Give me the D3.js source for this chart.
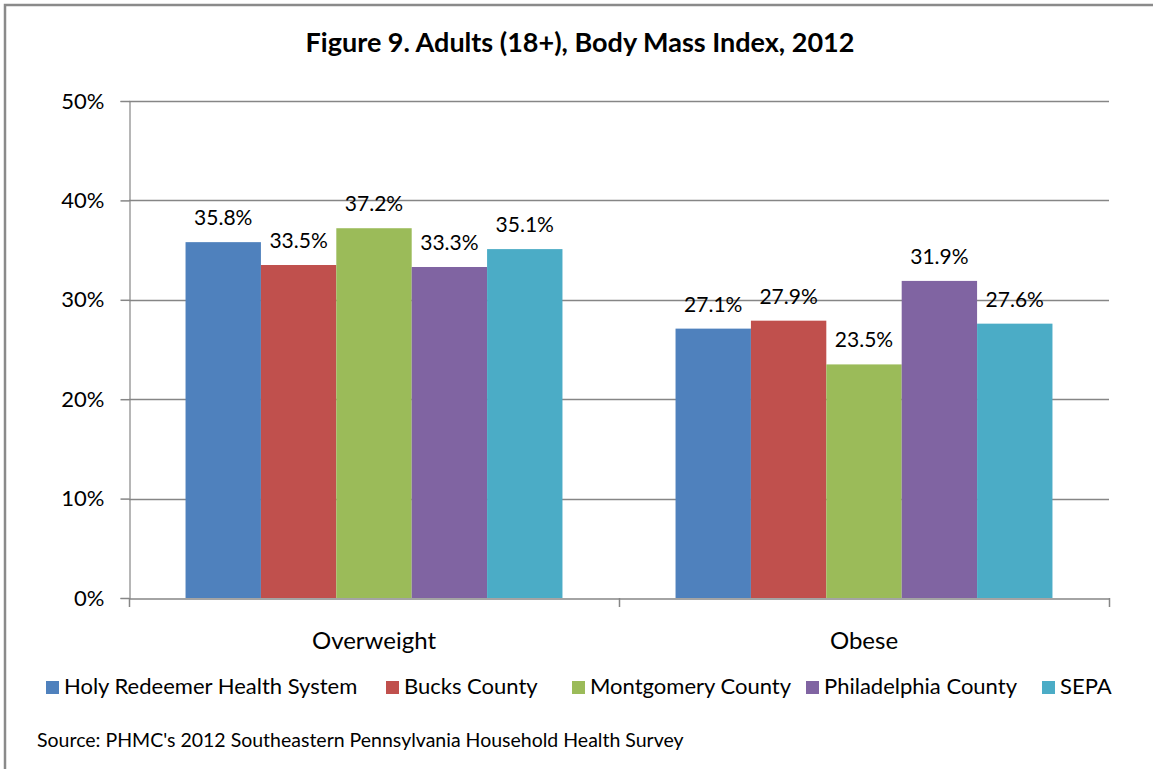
<!DOCTYPE html>
<html>
<head>
<meta charset="utf-8">
<script src="https://cdn.jsdelivr.net/npm/d3@7"></script>
<style>
  body { margin: 0; background: #fff; }
  svg { display: block; font-family: Lato, "Open Sans", sans-serif; }
</style>
</head>
<body>
<div id="chart"></div>
<script>
// Body mass index chart
const categories = ["Overweight", "Obese"];
const seriesNames = ["Holy Redeemer Health System", "Bucks County", "Montgomery County", "Philadelphia County", "SEPA"];
const overweight = [35.8, 33.5, 37.2, 33.3, 35.1];
const obese = [27.1, 27.9, 23.5, 31.9, 27.6];
const yTicks = [0, 10, 20, 30, 40, 50];
const colors = ["#4F81BD", "#C0504D", "#9BBB59", "#8064A2", "#4BACC6"];

const W = 1153, H = 769;
const plot = { left: 129, right: 1109, top: 101, bottom: 598 };

const svg = d3.select("#chart")
  .append("svg")
  .attr("width", W)
  .attr("height", H);

// outer frame (runs off the right/bottom edge like the original)
svg.append("rect")
  .attr("x", 5).attr("y", 5)
  .attr("width", 1170).attr("height", 800)
  .attr("fill", "none")
  .attr("stroke", "#8a8a8a")
  .attr("stroke-width", 2.5);

svg.append("text")
  .attr("x", 580)
  .attr("y", 52)
  .attr("text-anchor", "middle")
  .attr("font-weight", "bold")
  .attr("font-size", 27)
  .text("Figure 9. Adults (18+), Body Mass Index, 2012");

const x0 = d3.scaleBand()
  .domain(categories)
  .range([plot.left, plot.right]);

// 150% gap width -> inner group takes 5 of 6.5 bar widths
const groupPad = (1.5 / 6.5) / 2;
const x1 = d3.scaleBand()
  .domain(seriesNames)
  .range([x0.bandwidth() * groupPad, x0.bandwidth() * (1 - groupPad)]);

const y = d3.scaleLinear()
  .domain([0, 50])
  .range([plot.bottom, plot.top]);

// gridlines
svg.append("g")
  .selectAll("line")
  .data(yTicks.filter(d => d > 0))
  .enter()
  .append("line")
  .attr("x1", plot.left)
  .attr("x2", plot.right)
  .attr("y1", d => Math.round(y(d)) + 0.5)
  .attr("y2", d => Math.round(y(d)) + 0.5)
  .attr("stroke", "#868686")
  .attr("stroke-width", 1.5);

// y axis
const yAxis = svg.append("g")
  .attr("transform", `translate(${plot.left + 0.5},0)`)
  .call(d3.axisLeft(y).tickValues(yTicks).tickFormat(d => d + "%").tickSize(9).tickPadding(16));
yAxis.select(".domain").attr("stroke", "#868686").attr("stroke-width", 1.2);
yAxis.selectAll(".tick line").attr("stroke", "#868686").attr("stroke-width", 1.5);
yAxis.selectAll("text")
  .attr("font-size", 22)
  .attr("fill", "#000")
  .attr("font-family", "Lato, sans-serif");

const table = categories.map((c, i) => ({
  cat: c,
  vals: seriesNames.map((s, j) => ({ s, v: (i === 0 ? overweight : obese)[j], color: colors[j] }))
}));

const groups = svg.append("g")
  .selectAll("g")
  .data(table)
  .enter()
  .append("g")
  .attr("transform", d => `translate(${x0(d.cat)},0)`);

groups.selectAll("rect")
  .data(d => d.vals)
  .enter()
  .append("rect")
  .attr("x", d => x1(d.s))
  .attr("y", d => y(d.v))
  .attr("width", x1.bandwidth())
  .attr("height", d => y(0) - y(d.v))
  .attr("fill", d => d.color);

// x axis
const xAxis = svg.append("g")
  .attr("transform", `translate(0,${plot.bottom + 0.5})`)
  .call(d3.axisBottom(x0).tickSize(0).tickPadding(33));
xAxis.select(".domain").attr("stroke", "#868686").attr("stroke-width", 1.5);
xAxis.selectAll("text")
  .attr("font-size", 24)
  .attr("fill", "#000")
  .attr("font-family", "Lato, sans-serif");

// category separators
svg.append("g")
  .selectAll("line")
  .data([plot.left, x0("Obese"), plot.right])
  .enter()
  .append("line")
  .attr("x1", d => d + 0.5)
  .attr("x2", d => d + 0.5)
  .attr("y1", plot.bottom)
  .attr("y2", plot.bottom + 9)
  .attr("stroke", "#868686")
  .attr("stroke-width", 1.5);

// data labels
groups.selectAll("text.lbl")
  .data(d => d.vals)
  .enter()
  .append("text")
  .attr("class", "lbl")
  .attr("x", d => x1(d.s) + x1.bandwidth() / 2)
  .attr("y", d => y(d.v) - 17)
  .attr("text-anchor", "middle")
  .attr("font-size", 21)
  .text(d => d.v.toFixed(1) + "%");

// legend
const legendX = [46, 386, 572, 806, 1042];
const legend = svg.append("g")
  .selectAll("g")
  .data(seriesNames)
  .enter()
  .append("g")
  .attr("transform", (d, i) => `translate(${legendX[i]},681)`);

legend.append("rect")
  .attr("width", 13)
  .attr("height", 13)
  .attr("fill", (d, i) => colors[i]);

legend.append("text")
  .attr("x", 18)
  .attr("y", 13)
  .attr("font-size", 22)
  .text(d => d);

svg.append("text")
  .attr("x", 37)
  .attr("y", 747)
  .attr("font-size", 19.5)
  .text("Source: PHMC's 2012 Southeastern Pennsylvania Household Health Survey");
</script>
</body>
</html>
